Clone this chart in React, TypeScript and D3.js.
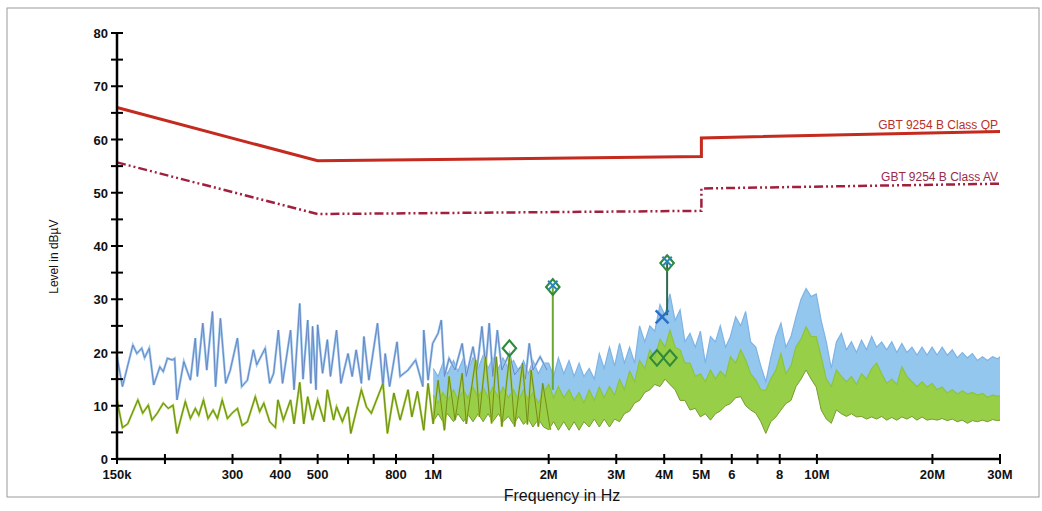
import React from 'react';
import * as d3 from 'd3';

// frequency in MHz, level in dBµV
const xTickValues = [0.15, 0.2, 0.3, 0.4, 0.5, 0.6, 0.7, 0.8, 1, 2, 3, 4, 5, 6, 7, 8, 10, 20, 30];
const xTickLabels = ['150k', '', '300', '400', '500', '', '', '800', '1M', '2M', '3M', '4M', '5M', '6', '', '8', '10M', '20M', '30M'];
const yTickValues = [0, 5, 10, 15, 20, 25, 30, 35, 40, 45, 50, 55, 60, 65, 70, 75, 80];

const qpLimit: [number, number][] = [[0.15, 66], [0.5, 56], [5, 56.8], [5, 60.3], [30, 61.5]];
const avLimit: [number, number][] = [[0.15, 55.7], [0.5, 46], [5, 46.6], [5, 50.8], [30, 51.7]];

// peak trace (blue), sparse low-frequency part
const peakTrace: [number, number][] = [
  [0.150, 19.2], [0.155, 13.6], [0.165, 21.4], [0.169, 19.8], [0.174, 20.8], [0.177, 19.0], [0.182, 20.8], [0.187, 13.9],
  [0.194, 17.3], [0.198, 16.4], [0.203, 18.9], [0.209, 18.6], [0.212, 18.9], [0.215, 11.1], [0.224, 18.3], [0.233, 14.8],
  [0.240, 22.7], [0.243, 15.5], [0.251, 25.5], [0.257, 16.7], [0.266, 27.7], [0.271, 13.6], [0.279, 26.4], [0.288, 14.2],
  [0.296, 16.7], [0.309, 22.7], [0.317, 13.6], [0.328, 14.8], [0.340, 20.5], [0.347, 17.7], [0.365, 20.8], [0.375, 14.2],
  [0.384, 16.1], [0.395, 24.2], [0.405, 14.2], [0.425, 24.2], [0.434, 13.0], [0.449, 29.2], [0.458, 15.0], [0.471, 26.1],
  [0.480, 14.2], [0.485, 24.9], [0.495, 13.0], [0.500, 25.2], [0.515, 16.1], [0.530, 22.4], [0.540, 15.5], [0.560, 24.2],
  [0.575, 14.2], [0.600, 19.8], [0.615, 15.5], [0.630, 20.5], [0.650, 14.2], [0.660, 23.0], [0.680, 14.8], [0.716, 25.5],
  [0.740, 13.6], [0.750, 19.8], [0.770, 13.6], [0.805, 22.0], [0.820, 15.5], [0.860, 16.7], [0.900, 18.6], [0.940, 13.6],
  [0.945, 24.2], [0.970, 14.8], [0.997, 21.7], [1.03, 23.6], [1.05, 26.1], [1.07, 15.5], [1.10, 18.9], [1.14, 16.7],
  [1.19, 21.7], [1.22, 15.5], [1.27, 21.1], [1.30, 16.7], [1.34, 24.9], [1.37, 17.3], [1.40, 25.5], [1.43, 15.5],
  [1.47, 24.2], [1.51, 16.7], [1.58, 19.8], [1.63, 15.8], [1.69, 17.3], [1.74, 15.0], [1.78, 21.7], [1.82, 16.7],
  [1.90, 19.2], [1.98, 16.7],
];

// average trace (green), sparse low-frequency part
const avgTrace: [number, number][] = [
  [0.150, 11.1], [0.155, 5.9], [0.160, 6.6], [0.170, 11.1], [0.175, 8.6], [0.181, 10.1], [0.185, 7.3], [0.191, 8.6],
  [0.198, 10.5], [0.204, 9.5], [0.210, 10.1], [0.215, 4.8], [0.226, 10.8], [0.233, 7.6], [0.240, 9.5], [0.245, 8.2],
  [0.252, 11.1], [0.259, 7.6], [0.267, 9.2], [0.274, 7.6], [0.282, 11.1], [0.291, 7.6], [0.299, 8.6], [0.309, 9.5],
  [0.318, 6.3], [0.328, 7.0], [0.344, 11.7], [0.353, 8.9], [0.362, 10.5], [0.375, 7.0], [0.388, 5.9], [0.394, 11.1],
  [0.407, 7.3], [0.425, 11.1], [0.434, 6.6], [0.449, 14.4], [0.460, 6.6], [0.471, 11.7], [0.485, 7.3], [0.500, 11.1],
  [0.520, 7.0], [0.530, 13.0], [0.550, 7.3], [0.560, 9.8], [0.580, 7.0], [0.600, 9.8], [0.610, 4.8], [0.650, 13.0],
  [0.670, 9.8], [0.690, 8.6], [0.740, 14.2], [0.760, 4.8], [0.790, 12.4], [0.820, 7.3], [0.860, 13.0], [0.880, 7.9],
  [0.910, 12.7], [0.945, 5.4], [0.970, 14.2], [1.00, 6.6], [1.03, 14.8], [1.07, 5.4], [1.10, 15.5], [1.14, 7.3],
  [1.19, 16.1], [1.22, 6.6], [1.29, 18.6], [1.32, 7.9], [1.37, 19.2], [1.42, 6.7], [1.46, 19.2], [1.51, 6.1],
  [1.58, 19.2], [1.63, 6.1], [1.71, 18.0], [1.76, 6.5], [1.80, 16.7], [1.88, 6.1], [1.93, 14.2], [2.02, 5.5],
];

// dense part of the sweep: [freq, peak top, average top, average bottom]
const denseSweep: [number, number, number, number][] = [
  [1.00, 17, 12, 7], [1.03, 15.5, 10.5, 8.5], [1.06, 18, 12.5, 7], [1.09, 16, 11, 8.5], [1.13, 18.5, 13, 7],
  [1.16, 16.5, 11, 8.5], [1.20, 19, 13, 7], [1.23, 16.5, 11.5, 8.5], [1.27, 19, 13.5, 7], [1.31, 17, 11.5, 8.5],
  [1.35, 19.5, 13.5, 7], [1.39, 17, 11.5, 8.5], [1.43, 19, 13.5, 7], [1.48, 17, 11.5, 8.5], [1.52, 19, 13.5, 7],
  [1.57, 17, 11.5, 8], [1.62, 18.5, 13, 6.5], [1.67, 16.5, 11, 8], [1.72, 18.5, 13, 6.5], [1.77, 16, 11, 7.5],
  [1.82, 18.5, 12.5, 6], [1.88, 16, 10.5, 7.5], [1.94, 18, 12.5, 6],
  [2.00, 18, 14, 5.5], [2.06, 15.5, 11.5, 7], [2.12, 19, 13.6, 5.4], [2.19, 16, 11.5, 7], [2.26, 18.5, 13, 5.4],
  [2.33, 15.5, 11, 7], [2.40, 18, 12.5, 5.4], [2.47, 15.5, 10.5, 7], [2.55, 17, 13, 6], [2.63, 15, 11, 7.5],
  [2.71, 19.8, 13.5, 6], [2.79, 17, 11.5, 7.5], [2.88, 21, 13.6, 6], [2.97, 17.5, 12, 7.5], [3.06, 21.7, 15, 7],
  [3.15, 18, 13, 8.5], [3.25, 21, 16.5, 9], [3.35, 18, 14.5, 10.5], [3.45, 25, 18.5, 11], [3.56, 22, 17, 12.5],
  [3.67, 25, 20.5, 13], [3.78, 24, 19, 14], [3.90, 29, 22.5, 13.6], [4.02, 27, 21, 15], [4.14, 31, 24.2, 14],
  [4.27, 26, 21, 13], [4.40, 28, 20.5, 11], [4.53, 22, 18, 11], [4.67, 23.6, 18, 9.2], [4.82, 21, 15.5, 9.5],
  [4.97, 24, 16, 7.9], [5.12, 18, 14.5, 8.5], [5.28, 23, 16.7, 7.3], [5.44, 22, 15, 8.5], [5.60, 25, 16.5, 9],
  [5.78, 21, 15.5, 10], [5.95, 23, 19.2, 10.4], [6.14, 26.7, 18, 11.5], [6.33, 25, 20.5, 11.7], [6.52, 27.7, 18.6, 10],
  [6.72, 22, 16, 9.2], [6.93, 21, 14.8, 8.6], [7.14, 17.5, 13, 7], [7.36, 14.5, 12.9, 4.8], [7.58, 19, 15, 7],
  [7.82, 23, 16.7, 7.9], [8.06, 25.5, 19.8, 9.2], [8.30, 21, 16, 10.4], [8.56, 23, 17.5, 11], [8.82, 26.7, 21.1, 13.6],
  [9.09, 30, 22.5, 15], [9.37, 32, 24.8, 16.7], [9.66, 30.5, 23, 15], [9.96, 31, 23, 13.5], [10.26, 26, 19.2, 9.2],
  [10.58, 22, 15, 7.5], [10.90, 17, 13.6, 6.7], [11.24, 22, 16.7, 9.2], [11.58, 23.6, 15.5, 8.5], [11.94, 20.5, 14.5, 8],
  [12.30, 22, 15.5, 8.5], [12.68, 20, 14, 7.9], [13.07, 22.3, 16, 8], [13.47, 20.5, 15, 7.5], [13.89, 23, 17, 7.9],
  [14.31, 21, 18, 7.5], [14.75, 22, 16, 8], [15.20, 20.5, 14.2, 7.3], [15.67, 22, 15, 7.8], [16.15, 20, 14, 7.3],
  [16.65, 21.7, 17.3, 7.9], [17.16, 20, 15.5, 7.5], [17.69, 21, 14.5, 8], [18.23, 19.5, 13.6, 7.3], [18.79, 21, 14.5, 7.9],
  [19.37, 19.5, 13.5, 7.3], [19.96, 21, 14.2, 7.5], [20.57, 19.5, 13, 7.3], [21.20, 21, 13.5, 7.6], [21.86, 19.5, 12.4, 7.2],
  [22.53, 20.5, 13, 7.5], [23.22, 19, 12.2, 7.0], [23.93, 20, 12.8, 7.3], [24.67, 19, 12.2, 6.7], [25.42, 19.8, 12.5, 7.2],
  [26.20, 18.5, 12, 7.0], [27.00, 19.2, 12.3, 7.3], [27.83, 18.5, 11.6, 7.0], [28.69, 19.2, 12, 7.4], [29.57, 18.8, 11.8, 7.2],
  [30.00, 19.2, 11.8, 7.3],
];

// markers
const diamondMarkers: [number, number][] = [[1.58, 20.8], [2.05, 32.3], [3.83, 19.0], [4.14, 19.0], [4.07, 36.8]];
const crossMarkers: [number, number][] = [[2.05, 32.6], [4.07, 37.1]];
const bigCross: [number, number][] = [[3.95, 26.7]];
const stems: [number, number, number][] = [[2.05, 32.3, 13], [4.07, 36.8, 27]];

const FONT = '"Liberation Sans", Arial, sans-serif';

export default function App() {
  const x = d3.scaleLog().domain([0.15, 30]).range([117, 1000]);
  const y = d3.scaleLinear().domain([0, 80]).range([459, 33]);

  const line = d3.line<[number, number]>().x(d => x(d[0])).y(d => y(d[1]));
  type Row = [number, number, number, number];
  const peakArea = d3.area<Row>().x(d => x(d[0])).y0(d => y(d[3])).y1(d => y(d[1]));
  const peakEdge = d3.line<Row>().x(d => x(d[0])).y(d => y(d[1]));
  const avgArea = d3.area<Row>().x(d => x(d[0])).y0(d => y(d[3])).y1(d => y(d[2]));
  const avgEdge = d3.line<Row>().x(d => x(d[0])).y(d => y(d[2]));
  const avgLow = d3.line<Row>().x(d => x(d[0])).y(d => y(d[3]));

  const diamond = d3.symbol().type(d3.symbolDiamond).size(70)();
  const cross = d3.symbol().type(d3.symbolX).size(60)();
  const cross2 = d3.symbol().type(d3.symbolX).size(110)();

  return (
    <svg width={1042} height={511} style={{position: 'absolute', left: 0, top: 0, background: '#fff'}}>
      <rect x={7} y={8} width={1032} height={489} fill="none" stroke="#9a9a9a" strokeWidth={1} />

      {/* limit lines */}
      <path d={line(qpLimit) || ''} fill="none" stroke="#c42a1e" strokeWidth={3} />
      <path d={line(avLimit) || ''} fill="none" stroke="#a0203e" strokeWidth={2.5} strokeDasharray="9,3,2,3,2,3" />
      <text x={x(30) - 2} y={y(61.5) - 3} textAnchor="end" fontFamily={FONT} fontSize={12} fill="#b8302a">GBT 9254 B Class QP</text>
      <text x={x(30) - 2} y={y(51.7) - 3} textAnchor="end" fontFamily={FONT} fontSize={12} fill="#9a2a48">GBT 9254 B Class AV</text>

      {/* peak trace */}
      <path d={peakArea(denseSweep) || ''} fill="#93c7ee" />
      <path d={peakEdge(denseSweep) || ''} fill="none" stroke="#7fb3e4" strokeWidth={1.2} />
      <path d={line(peakTrace) || ''} fill="none" stroke="#9cc8ee" strokeWidth={2.4} />
      <path d={line(peakTrace) || ''} fill="none" stroke="#6a86c2" strokeWidth={1} />

      {/* average trace */}
      <path d={avgArea(denseSweep) || ''} fill="#98cf48" />
      <path d={avgEdge(denseSweep) || ''} fill="none" stroke="#8cc43a" strokeWidth={1.2} />
      <path d={avgLow(denseSweep) || ''} fill="none" stroke="#7a9e30" strokeWidth={1} />
      <path d={line(avgTrace) || ''} fill="none" stroke="#a4cc3a" strokeWidth={2.2} />
      <path d={line(avgTrace) || ''} fill="none" stroke="#6e8e1c" strokeWidth={1} />

      {/* markers */}
      {stems.map((s, i) => (
        <line key={'s' + i} x1={x(s[0])} x2={x(s[0])} y1={y(s[1])} y2={y(s[2])} stroke={i === 0 ? '#6aa832' : '#2f6a50'} strokeWidth={2} />
      ))}
      {diamondMarkers.map((m, i) => (
        <path key={'d' + i} d={diamond || ''} transform={`translate(${x(m[0])},${y(m[1])}) scale(1.5,1)`}
              fill="none" stroke="#2f8a3a" strokeWidth={1.6} />
      ))}
      {crossMarkers.map((m, i) => (
        <path key={'c' + i} d={cross || ''} transform={`translate(${x(m[0])},${y(m[1])})`} fill="none" stroke="#2a86b4" strokeWidth={2} />
      ))}
      {bigCross.map((m, i) => (
        <path key={'b' + i} d={cross2 || ''} transform={`translate(${x(m[0])},${y(m[1])})`} fill="none" stroke="#2a6fc8" strokeWidth={2.5} />
      ))}

      {/* axes */}
      <line x1={x(0.15)} x2={x(0.15)} y1={y(80)} y2={y(0)} stroke="#000" strokeWidth={2.5} />
      <line x1={x(0.15)} x2={x(30)} y1={y(0)} y2={y(0)} stroke="#000" strokeWidth={2.5} />
      {yTickValues.map(v => (
        <g key={'y' + v}>
          <line x1={x(0.15) - 6} x2={x(0.15) + 6} y1={y(v)} y2={y(v)} stroke="#000" strokeWidth={2} />
          {v % 10 === 0 && (
            <text x={x(0.15) - 9} y={y(v) + 5} textAnchor="end" fontFamily={FONT} fontSize={13} fontWeight="bold" fill="#111">{v}</text>
          )}
        </g>
      ))}
      {xTickValues.map((v, i) => (
        <g key={'x' + v}>
          <line x1={x(v)} x2={x(v)} y1={y(0) - 5} y2={y(0) + 5} stroke="#000" strokeWidth={2} />
          <text x={x(v)} y={y(0) + 20} textAnchor="middle" fontFamily={FONT} fontSize={13} fontWeight="bold" fill="#111">{xTickLabels[i]}</text>
        </g>
      ))}
      <text transform={`translate(58,${y(38)}) rotate(-90)`} textAnchor="middle" fontFamily={FONT} fontSize={12} fill="#111">Level in dBµV</text>
      <text x={562} y={501} textAnchor="middle" fontFamily={FONT} fontSize={16} fill="#111">Frequency in Hz</text>
    </svg>
  );
}
